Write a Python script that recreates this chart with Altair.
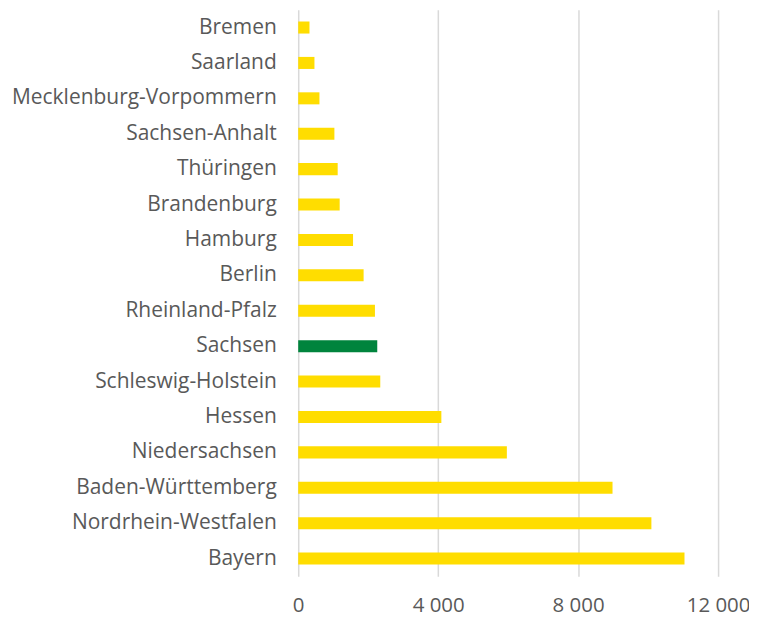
import altair as alt
import pandas as pd

states = ["Bremen", "Saarland", "Mecklenburg-Vorpommern", "Sachsen-Anhalt", "Thüringen",
          "Brandenburg", "Hamburg", "Berlin", "Rheinland-Pfalz", "Sachsen",
          "Schleswig-Holstein", "Hessen", "Niedersachsen", "Baden-Württemberg",
          "Nordrhein-Westfalen", "Bayern"]
values = [322, 464, 607, 1034, 1128, 1185, 1567, 1869, 2193, 2259, 2345, 4091, 5963, 8983, 10094, 11040]
highlight = ["Sachsen"]

df = pd.DataFrame({"state": states, "value": values})
df["hl"] = df["state"].isin(highlight)

chart = alt.Chart(df).mark_bar().encode(
    x=alt.X("value:Q", scale=alt.Scale(domain=[0, 12000], nice=False),
            axis=alt.Axis(values=[0, 4000, 8000, 12000], title=None,
                          labelExpr="replace(format(datum.value, ',d'), ',', ' ')",
                          grid=True, gridColor="#d9d9d9", gridWidth=1.5,
                          domain=False, ticks=False, labelFontSize=20.5,
                          labelColor="#595959", labelFont="Open Sans", labelPadding=19,
                          labelFlush=False, labelOverlap=False)),
    y=alt.Y("state:N", sort=states, title=None,
            scale=alt.Scale(paddingInner=0.66, paddingOuter=0.33),
            axis=alt.Axis(domain=False, ticks=False, labelFontSize=21,
                          labelColor="#595959", labelFont="Open Sans", labelPadding=22,
                          labelLimit=400)),
    color=alt.Color("hl:N", scale=alt.Scale(domain=[False, True], range=["#FFDD00", "#00843D"]),
                    legend=None),
).properties(
    width=421, height=568,
    autosize=alt.AutoSizeParams(type="none"),
    padding={"left": 291, "top": 1, "right": 31, "bottom": 44},
).configure_view(stroke=None)

chart.save("out.html", embed_options={"renderer": "svg", "actions": False})
